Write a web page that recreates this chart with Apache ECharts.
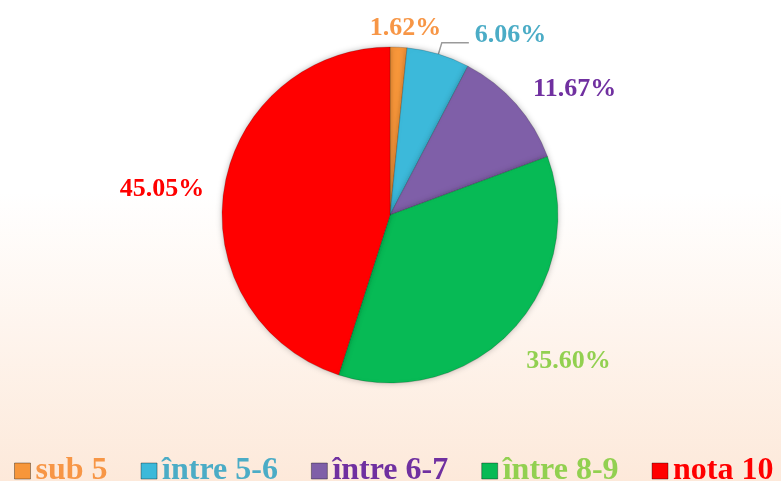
<!DOCTYPE html>
<html>
<head>
<meta charset="utf-8">
<script src="https://cdn.jsdelivr.net/npm/echarts@6/dist/echarts.min.js"></script>
<style>
  html, body { margin: 0; padding: 0; }
  #chart { width: 781px; height: 481px; }
</style>
</head>
<body>
<div id="chart"></div>
<script>
var categories = ['sub 5', 'între 5-6', 'între 6-7', 'între 8-9', 'nota 10'];
var values = [1.62, 6.06, 11.67, 35.60, 45.05];
var sliceColors = ['#F7963A', '#3CB9DA', '#7F5FA8', '#07BA55', '#FF0000'];
var textColors = ['#F79646', '#4BACC6', '#7030A0', '#92D050', '#FF0000'];

// label line lengths for each slice (length, length2), and which get a leader line
var lineLen = [19, 12, 22, 43, 0];
var lineLen2 = [6, 27, 42, 26, 62];
var showLine = [false, true, false, false, false];

var font = '"Liberation Serif", "Times New Roman", serif';

var chart = echarts.init(document.getElementById('chart'));

var pieData = [];
for (var i = 0; i < categories.length; i++) {
  var item = {
    name: categories[i],
    value: values[i],
    itemStyle: { color: sliceColors[i] },
    label: { color: textColors[i] },
    labelLine: {
      show: showLine[i],
      length: lineLen[i],
      length2: lineLen2[i]
    }
  };
  if (showLine[i]) {
    item.label.distanceToLabelLine = 6;
    item.label.lineHeight = 14;
  }
  pieData.push(item);
}

var legendData = categories.map(function(name, i){
  return { name: name, textStyle: { color: textColors[i] } };
});

var option = {
  backgroundColor: {
    type: 'linear', x: 0, y: 0, x2: 0, y2: 1,
    colorStops: [
      { offset: 0, color: '#ffffff' },
      { offset: 0.4, color: '#ffffff' },
      { offset: 1, color: '#fde9da' }
    ]
  },
  legend: {
    data: legendData,
    left: 9,
    top: 450,
    itemWidth: 16,
    itemHeight: 16,
    itemGap: 33,
    icon: 'rect',
    itemStyle: { borderColor: 'rgba(0,0,0,0.35)', borderWidth: 1 },
    textStyle: {
      fontFamily: font,
      fontWeight: 'bold',
      fontSize: 32
    }
  },
  series: [{
    type: 'pie',
    center: [390, 215],
    radius: 168,
    startAngle: 90,
    clockwise: true,
    avoidLabelOverlap: false,
    animation: false,
    itemStyle: {
      borderColor: 'rgba(0,0,0,0.18)',
      borderWidth: 1,
      shadowBlur: 6,
      shadowColor: 'rgba(0,0,0,0.25)'
    },
    label: {
      show: true,
      position: 'outside',
      distanceToLabelLine: 0,
      fontFamily: font,
      fontWeight: 'bold',
      fontSize: 26,
      formatter: function(p){ return p.value.toFixed(2) + '%'; }
    },
    labelLine: {
      lineStyle: { color: '#9a9a9a', width: 1.5 },
      smooth: false
    },
    labelLayout: function(params){
      if (showLine[params.dataIndex]) {
        return { verticalAlign: 'bottom' };
      }
      return { align: 'center' };
    },
    emphasis: { disabled: true },
    data: pieData
  }]
};

chart.setOption(option);
</script>
</body>
</html>
